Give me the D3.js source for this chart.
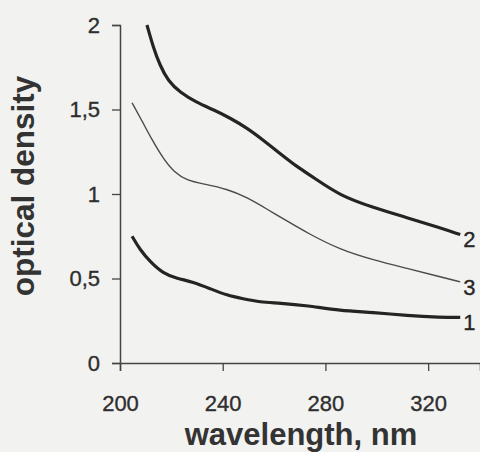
<!DOCTYPE html>
<html>
<head>
<meta charset="utf-8">
<script src="https://cdn.jsdelivr.net/npm/d3@7"></script>
<style>
  body { margin: 0; background: #f2f2f0; }
  svg { display: block; font-family: "Liberation Sans", Arial, sans-serif; }
</style>
</head>
<body>
<div id="chart"></div>
<script>
// curve 1 (thick, lowest)
var wl1 = [204.7, 207.8, 211.7, 216.8, 222.2, 228.4, 235.1, 241.7, 247.9, 254.5, 262.3, 272.9, 285.7, 298.6, 311.8, 324.7, 332.5];
var od1 = [0.75, 0.67, 0.60, 0.53, 0.50, 0.48, 0.44, 0.40, 0.38, 0.36, 0.355, 0.34, 0.31, 0.30, 0.28, 0.27, 0.27];
// curve 2 (thick, top)
var wl2 = [210.5, 212.9, 215.6, 218.7, 223.4, 230.0, 236.2, 242.9, 249.5, 255.7, 262.3, 269.0, 275.2, 285.7, 298.6, 311.8, 324.7, 332.5];
var od2 = [2.00, 1.87, 1.76, 1.67, 1.60, 1.54, 1.50, 1.45, 1.39, 1.32, 1.24, 1.16, 1.10, 0.99, 0.92, 0.86, 0.80, 0.76];
// curve 3 (thin, middle)
var wl3 = [204.7, 209.0, 212.5, 216.8, 221.0, 226.1, 232.3, 241.7, 249.5, 257.3, 266.2, 272.9, 285.7, 298.6, 311.8, 324.7, 332.5];
var od3 = [1.54, 1.42, 1.32, 1.21, 1.13, 1.08, 1.06, 1.03, 0.98, 0.91, 0.83, 0.77, 0.67, 0.61, 0.56, 0.51, 0.48];

var curveNames = ["1", "2", "3"];
var xTicks = [200, 240, 280, 320];
var yTicks = [0, 0.5, 1, 1.5, 2];

function drawSpectra(placement, w, h) {
    var margins = {top: 25, right: 0, bottom: 89, left: 120};

    var x = d3.scaleLinear()
        .domain([200, 340.2])
        .range([margins.left, w - margins.right]);
    var y = d3.scaleLinear()
        .domain([0, 2])
        .range([h - margins.bottom, margins.top]);

    var svg = d3.select(placement).append("svg")
        .attr("width", w).attr("height", h);

    var comma = function(d) { return String(d).replace(".", ","); };

    var xAxis = d3.axisBottom(x).tickValues(xTicks).tickSize(8).tickPadding(20).tickFormat(d3.format("d"));
    var yAxis = d3.axisLeft(y).tickValues(yTicks).tickSize(8).tickPadding(12).tickFormat(comma);

    var gx = svg.append("g")
        .attr("class", "x axis")
        .attr("transform", "translate(0," + y(0) + ")")
        .call(xAxis);
    var gy = svg.append("g")
        .attr("class", "y axis")
        .attr("transform", "translate(" + x(200) + ",0)")
        .call(yAxis);

    [gx, gy].forEach(function(g) {
        g.select(".domain").attr("stroke", "#444").attr("stroke-width", 1.5);
        g.selectAll(".tick line").attr("stroke", "#444").attr("stroke-width", 1.3);
        g.selectAll(".tick text")
            .attr("fill", "#2e2e2e")
            .attr("stroke", "#2e2e2e")
            .attr("stroke-width", 0.35)
            .attr("font-size", "22px")
            .attr("font-family", "'Liberation Sans', Arial, sans-serif");
    });
    gx.selectAll(".tick text").attr("dy", "0.9em");

    var series = [
        {name: "1", wl: wl1, od: od1, width: 3.2, color: "#242424"},
        {name: "2", wl: wl2, od: od2, width: 3.2, color: "#242424"},
        {name: "3", wl: wl3, od: od3, width: 1.4, color: "#4a4a4a"}
    ];

    var line = d3.line()
        .x(function(d) { return x(d[0]); })
        .y(function(d) { return y(d[1]); })
        .curve(d3.curveBasis);

    series.forEach(function(s) {
        var pts = s.wl.map(function(v, i) { return [v, s.od[i]]; });
        svg.append("path")
            .datum(pts)
            .attr("fill", "none")
            .attr("stroke", s.color)
            .attr("stroke-width", s.width)
            .attr("stroke-linejoin", "round")
            .attr("d", line);

        var last = pts[pts.length - 1];
        svg.append("text")
            .attr("x", x(last[0]) + 3)
            .attr("y", y(last[1]) + 5)
            .attr("dy", "0.35em")
            .attr("font-size", "22px")
            .attr("fill", "#262626")
            .attr("stroke", "#262626")
            .attr("stroke-width", 0.35)
            .text(s.name);
    });

    svg.append("text")
        .attr("x", (x(200) + w) / 2 + 1)
        .attr("y", 445)
        .attr("text-anchor", "middle")
        .attr("font-size", "31px")
        .attr("font-weight", "bold")
        .attr("fill", "#333")
        .text("wavelength, nm");

    svg.append("text")
        .attr("transform", "translate(34," + 186 + ") rotate(-90)")
        .attr("text-anchor", "middle")
        .attr("font-size", "31.5px")
        .attr("font-weight", "bold")
        .attr("fill", "#333")
        .text("optical density");
}

drawSpectra("#chart", 480, 452);
</script>
</body>
</html>
